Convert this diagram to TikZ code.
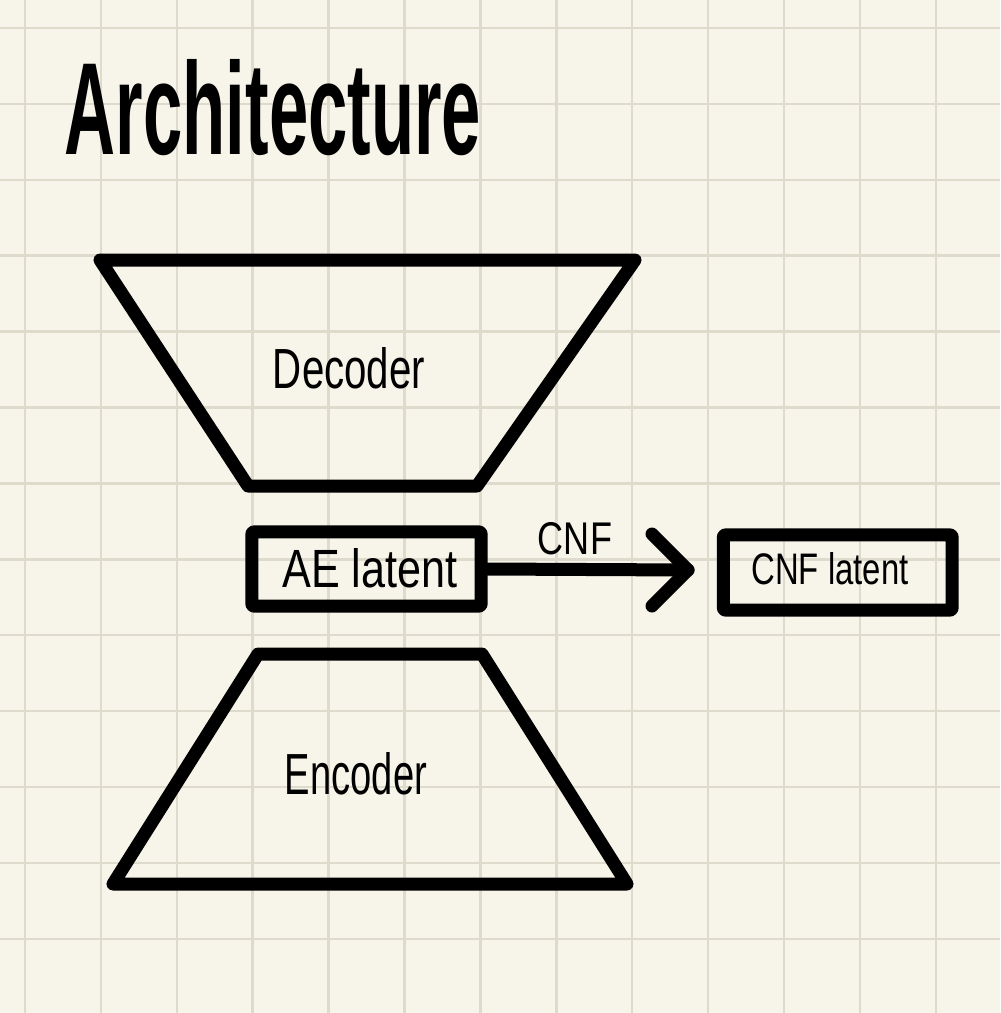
\documentclass[tikz,border=0pt]{standalone}
\usepackage{fontspec}
\setmainfont{Liberation Sans}
\usepackage{graphicx}
\usetikzlibrary{calc}
\definecolor{paper}{HTML}{F7F5E9}
\definecolor{gridc}{HTML}{DEDBCC}
\begin{document}
\begin{tikzpicture}[x=0.025cm,y=-0.025cm,
  stroke/.style={line width=0.325cm, line join=round, line cap=round},
  box/.style={stroke, draw, rectangle, rounded corners=1pt, inner sep=0pt},
  lbl/.style={inner sep=0pt},
  gridline/.style={gridc, line width=1.8pt}]
\fill[paper] (0,0) rectangle (1000,1013);
\useasboundingbox (0,0) rectangle (1000,1013);
\foreach \i in {0,...,12} {
  \draw[gridline] ({25+75.9*\i},0) -- ({25+75.9*\i},1013);
  \draw[gridline] (0,{28+75.9*\i}) -- (1000,{28+75.9*\i});
}
% title
\node[lbl] (title) at (273,107.5) {\resizebox{10.4cm}{2.375cm}{\bfseries Architecture}};
% decoder
\draw[stroke] (100,260) -- (635,260) -- (477,486) -- (248,486) -- cycle;
\node[lbl] (dec) at (349,368) {\resizebox{3.8cm}{1.025cm}{Decoder}};
% encoder
\draw[stroke] (258,654) -- (482,654) -- (627,884) -- (113,884) -- cycle;
\node[lbl] (enc) at (356,774) {\resizebox{3.55cm}{1.05cm}{Encoder}};
% latent boxes
\node[box, minimum width=5.725cm, minimum height=1.85cm] (ae) at (366.5,569) {};
\node[lbl] (aetext) at (370,568) {\resizebox{4.375cm}{0.975cm}{AE latent}};
\node[box, minimum width=5.7125cm, minimum height=1.875cm] (cnf) at (837.75,572.5) {};
\node[lbl] (cnftext) at (830,569) {\resizebox{3.925cm}{0.8cm}{CNF latent}};
% arrow
\coordinate (tip) at (688,570);
\draw[stroke] (ae.east) -- (tip);
\draw[stroke] ($(tip)+(-36,-36)$) -- (tip) -- ($(tip)+(-36,36)$);
\node[lbl] (flow) at (575,539) {\resizebox{1.85cm}{0.8cm}{CNF}};
\end{tikzpicture}
\end{document}
